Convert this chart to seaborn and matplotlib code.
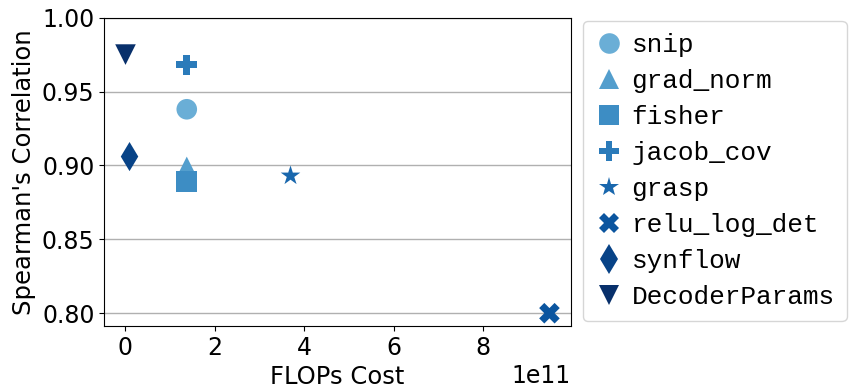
import matplotlib
matplotlib.use("Agg")
import matplotlib.pyplot as plt
import seaborn as sns
import numpy as np
import pandas as pd

methods = ["snip", "grad_norm", "fisher", "jacob_cov", "grasp", "relu_log_det", "synflow", "DecoderParams"]
flops = [1.37e11, 1.37e11, 1.37e11, 1.37e11, 3.69e11, 9.48e11, 0.09e11, 0.0]
spearman = [0.938, 0.899, 0.889, 0.968, 0.893, 0.800, 0.906, 0.975]
markers = ["o", "^", "s", "P", "*", "X", "d", "v"]

df = pd.DataFrame({"method": methods, "flops": flops, "spearman": spearman})
cmap = matplotlib.colormaps["Blues"]
palette = [cmap(v) for v in np.linspace(0.5, 1.0, len(methods))]

fig, ax = plt.subplots(figsize=(8.62, 3.92), dpi=100)
sns.scatterplot(data=df, x="flops", y="spearman", hue="method", style="method",
                hue_order=methods, style_order=methods,
                palette=palette, markers=markers, s=220, ax=ax, linewidth=0, zorder=3)
ax.set_ylim(0.79125, 1.0)
ax.set_yticks([0.80, 0.85, 0.90, 0.95, 1.00])
ax.yaxis.grid(True, color="#b0b0b0", linewidth=1)
ax.set_axisbelow(True)
ax.set_xlabel("FLOPs Cost", fontsize=17.5)
ax.set_ylabel("Spearman's Correlation", fontsize=17.5)
ax.tick_params(labelsize=17)
ax.xaxis.get_offset_text().set_fontsize(17)
leg = ax.legend(loc="upper left", bbox_to_anchor=(583 / 862, 1 - 21 / 392), bbox_transform=fig.transFigure,
                borderaxespad=0, prop={"family": "Liberation Mono", "size": 18.8},
                markerscale=1.0, handlelength=1.1, handletextpad=0.3, borderpad=0.46,
                labelspacing=0.46)
fig.subplots_adjust(left=0.121, right=0.662, top=0.955, bottom=0.168)
fig.savefig("out.png", dpi=100)
